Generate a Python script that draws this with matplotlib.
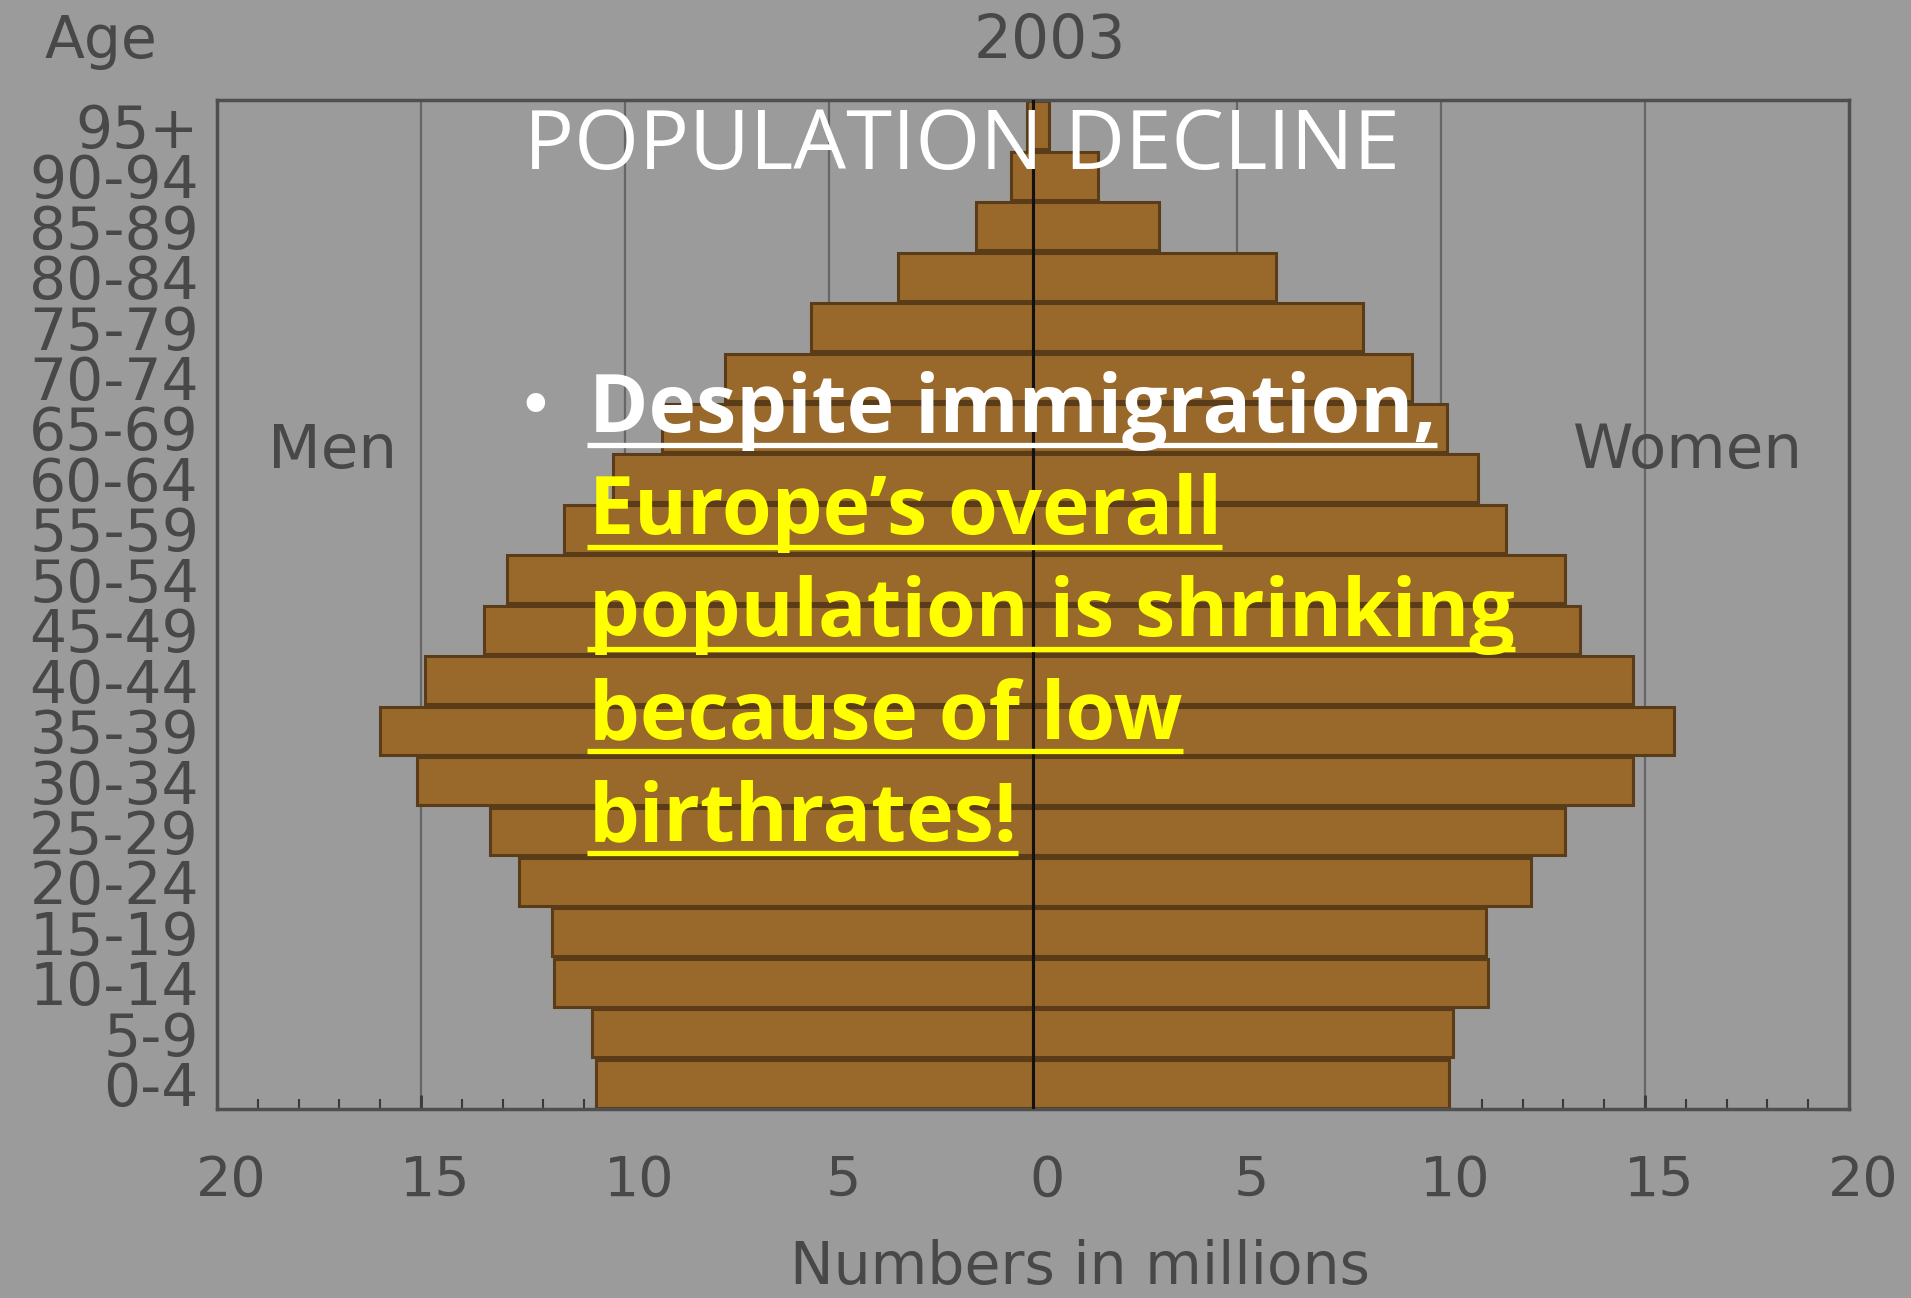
#!/usr/bin/env python3
"""Europe population pyramid (2003) with the 'population decline' slide text on top."""
import matplotlib

matplotlib.use("Agg")
import matplotlib.pyplot as plt
from matplotlib.lines import Line2D
from matplotlib.ticker import MultipleLocator
from matplotlib.transforms import ScaledTranslation

plt.rcParams.update({"font.family": "DejaVu Sans"})

# --- data (millions) -------------------------------------------------------
AGE_GROUPS = ["0-4", "5-9", "10-14", "15-19", "20-24", "25-29", "30-34",
              "35-39", "40-44", "45-49", "50-54", "55-59", "60-64", "65-69",
              "70-74", "75-79", "80-84", "85-89", "90-94", "95+"]
MEN = [10.7, 10.8, 11.75, 11.8, 12.6, 13.3, 15.1, 16.0, 14.9, 13.45,
       12.9, 11.5, 10.3, 9.1, 7.55, 5.45, 3.3, 1.4, 0.55, 0.15]
WOMEN = [10.2, 10.3, 11.15, 11.1, 12.2, 13.05, 14.7, 15.7, 14.7, 13.4,
         13.05, 11.6, 10.9, 10.15, 9.3, 8.1, 5.95, 3.1, 1.6, 0.4]
XTICKS = [-20, -15, -10, -5, 0, 5, 10, 15, 20]
XTICK_LABELS = ["20", "15", "10", "5", "0", "5", "10", "15", "20"]
GRID_AT = [-15, -10, -5, 5, 10, 15]

TITLE = "POPULATION DECLINE"
BODY = [
    ("Despite immigration,", "#ffffff"),
    ("Europe\u2019s overall", "#ffff00"),
    ("population is shrinking", "#ffff00"),
    ("because of low", "#ffff00"),
    ("birthrates!", "#ffff00"),
]

BG = "#9b9b9b"
BAR = "#99682b"
EDGE = "#5a3c18"
INK = "#484848"

W, H = 1911, 1298
fig = plt.figure(figsize=(W / 100, H / 100), dpi=100, facecolor=BG)
ax = fig.add_axes([217 / W, 189 / H, 1632 / W, 1009 / H], facecolor=BG)

y = list(range(len(AGE_GROUPS)))
ax.barh(y, [-m for m in MEN], height=0.95, color=BAR, edgecolor=EDGE,
        linewidth=2.2, zorder=2)
ax.barh(y, WOMEN, height=0.95, color=BAR, edgecolor=EDGE, linewidth=2.2,
        zorder=2)

for g in GRID_AT:
    ax.axvline(g, color="#666666", linewidth=1.6, zorder=1)
ax.axvline(0, color="#111111", linewidth=2.2, zorder=3)

ax.set_xlim(-20, 20)
ax.set_ylim(-0.5, len(AGE_GROUPS) - 0.5)
for sp in ax.spines.values():
    sp.set_color("#4f4f4f")
    sp.set_linewidth(2.5)

ax.set_yticks(y)
ax.set_yticklabels(AGE_GROUPS, fontsize=42, color=INK)
ax.tick_params(axis="y", length=0, pad=13)

ax.set_xticks(XTICKS)
ax.set_xticklabels(XTICK_LABELS, fontsize=40, color=INK)
ax.xaxis.set_minor_locator(MultipleLocator(1))
ax.tick_params(axis="x", which="major", direction="in", length=10, width=2,
               color="#3a3a3a", pad=32)
ax.tick_params(axis="x", which="minor", direction="in", length=7, width=1.5,
               color="#3a3a3a")
shift = ScaledTranslation(14 / 100, 0, fig.dpi_scale_trans)
for lbl in ax.get_xticklabels():
    lbl.set_transform(lbl.get_transform() + shift)

ax.text(-0.071, 1.058, "Age", transform=ax.transAxes, fontsize=42,
        color=INK, ha="center", va="center")
ax.text(0.5104, 1.058, "2003", transform=ax.transAxes, fontsize=43,
        color=INK, ha="center", va="center")
ax.text(0.0711, 0.652, "Men", transform=ax.transAxes, fontsize=44,
        color=INK, ha="center", va="center")
ax.text(0.9013, 0.652, "Women", transform=ax.transAxes, fontsize=44,
        color=INK, ha="center", va="center")
ax.text(0.5288, -0.1575, "Numbers in millions", transform=ax.transAxes,
        fontsize=42, color=INK, ha="center", va="center")

# --- slide overlay ----------------------------------------------------------
fig.text(524 / W, 1 - 169 / H, TITLE, fontfamily="Open Sans", fontsize=60,
         color="#ffffff", ha="left", va="baseline")
fig.text(535 / W, 1 - 409 / H, "\u2022", fontsize=46, color="#ffffff",
         ha="center", va="center")

texts = []
for i, (line, col) in enumerate(BODY):
    base = 1 - (432 + 102 * i) / H
    t = fig.text(589 / W, base, line, fontfamily="Open Sans", fontweight="bold",
                 fontsize=58, color=col, ha="left", va="baseline")
    texts.append((t, base, col))

fig.canvas.draw()
inv = fig.transFigure.inverted()
for t, base, col in texts:
    bb = t.get_window_extent().transformed(inv)
    uy = base - 13 / H
    fig.add_artist(Line2D([bb.x0 - 2 / W, bb.x1], [uy, uy],
                          transform=fig.transFigure, color=col, linewidth=3.8,
                          solid_capstyle="butt"))

fig.savefig("out.png", dpi=100, facecolor=BG)
